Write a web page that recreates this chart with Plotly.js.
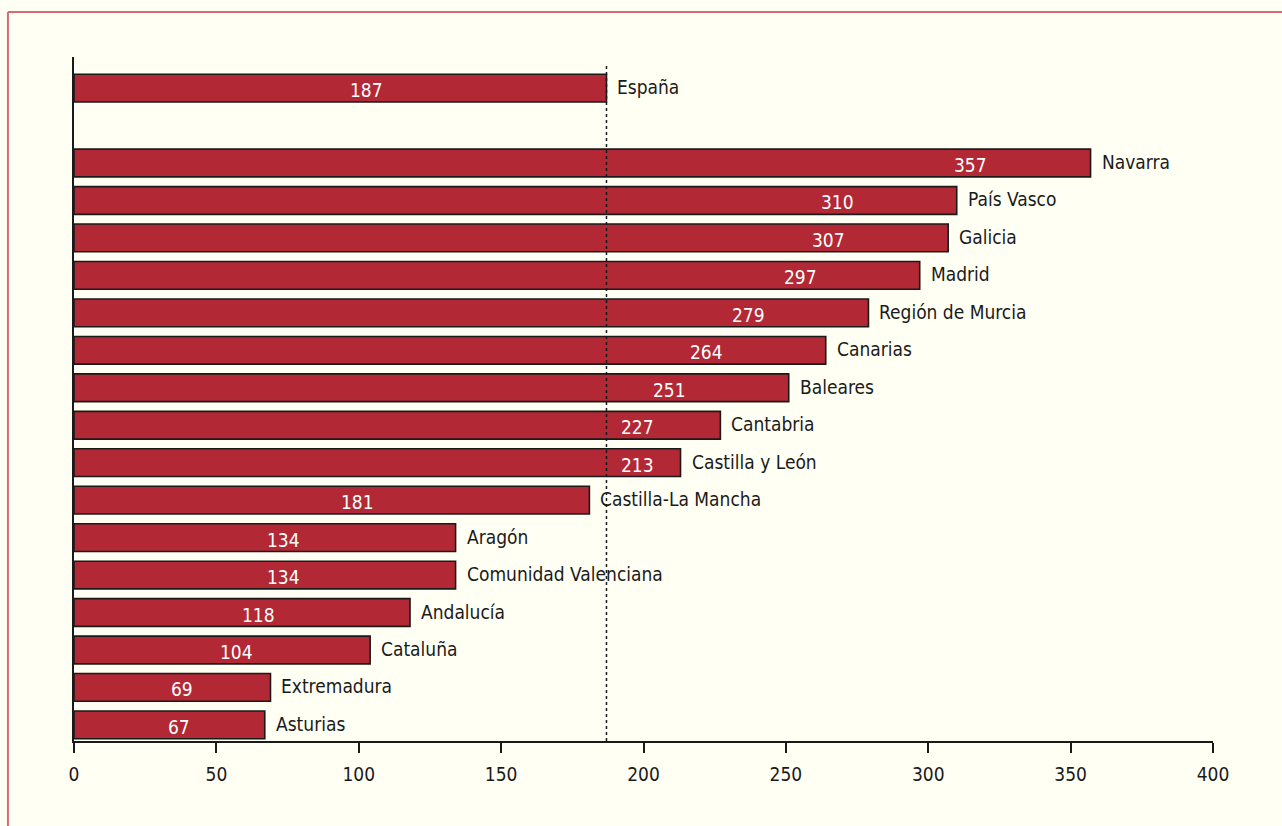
<!DOCTYPE html>
<html>
<head>
<meta charset="utf-8">
<script src="https://cdn.plot.ly/plotly-3.0.1.min.js"></script>
<style>
html,body{margin:0;padding:0;background:#fffff4;}
#chart{width:1282px;height:826px;}
</style>
</head>
<body>
<div id="chart"></div>
<script>
// Data (top to bottom as shown)
const regions = ["España", "Navarra", "País Vasco", "Galicia", "Madrid", "Región de Murcia",
  "Canarias", "Baleares", "Cantabria", "Castilla y León", "Castilla-La Mancha", "Aragón",
  "Comunidad Valenciana", "Andalucía", "Cataluña", "Extremadura", "Asturias"];
const values = [187, 357, 310, 307, 297, 279, 264, 251, 227, 213, 181, 134, 134, 118, 104, 69, 67];
const referenceValue = 187;
const xTicks = [0, 50, 100, 150, 200, 250, 300, 350, 400];

const FONT = "'Liberation Sans Narrow', 'Arial Narrow', 'DejaVu Sans Condensed', sans-serif";
const FSIZE = 19;
const GAP = " ";

// category order bottom -> top, with a blank slot between España and the regions
const order = regions.slice(1).reverse().concat([GAP, regions[0]]);

const trace = {
  type: "bar",
  orientation: "h",
  x: values,
  y: regions,
  width: 0.74,
  marker: {color: "#b22834", line: {color: "#1a1a1a", width: 1.6}},
  hoverinfo: "x+y",
  cliponaxis: false
};

const annotations = [];
values.forEach((v, i) => {
  const lx = v > referenceValue ? Math.max(v - 42, referenceValue + 11) : v * 0.55;
  annotations.push({
    x: lx, y: regions[i], xref: "x", yref: "y", text: String(v), showarrow: false,
    xanchor: "center", yanchor: "middle", yshift: -2,
    font: {family: FONT, size: FSIZE, color: "#ffffff"}
  });
  annotations.push({
    x: v, y: regions[i], xref: "x", yref: "y", text: regions[i], showarrow: false,
    xanchor: "left", yanchor: "middle", xshift: 9, yshift: 1,
    font: {family: FONT, size: FSIZE, color: "#1a1a1a"}
  });
});

const layout = {
  width: 1282, height: 826,
  paper_bgcolor: "#fffff4", plot_bgcolor: "#fffff4",
  margin: {l: 74, r: 69, t: 57, b: 85, pad: 0},
  showlegend: false,
  font: {family: FONT, size: FSIZE, color: "#1a1a1a"},
  xaxis: {
    range: [0, 400], tickvals: xTicks, ticktext: xTicks.map(String),
    showgrid: false, zeroline: false, showline: true, linecolor: "#1a1a1a", linewidth: 1.5,
    ticks: "outside", ticklen: 10, tickwidth: 1.5, tickcolor: "#1a1a1a",
    ticklabelstandoff: 5,
    tickfont: {family: FONT, size: FSIZE, color: "#1a1a1a"}, fixedrange: true
  },
  yaxis: {
    type: "category", categoryorder: "array", categoryarray: order,
    range: [-0.43, 17.83],
    showgrid: false, zeroline: false, showline: true, linecolor: "#1a1a1a", linewidth: 1.5,
    ticks: "", showticklabels: false, fixedrange: true
  },
  shapes: [
    {type: "line", xref: "x", yref: "y", x0: referenceValue, x1: referenceValue, y0: -0.43, y1: 17.62,
     line: {color: "#1a1a1a", width: 1.5, dash: "dot"}, layer: "above"},
    {type: "line", xref: "paper", yref: "paper", x0: -0.058, x1: 1.07, y0: 1.0658, y1: 1.0658,
     line: {color: "#d86a74", width: 2}},
    {type: "line", xref: "paper", yref: "paper", x0: -0.058, x1: -0.058, y0: 1.0658, y1: -0.14,
     line: {color: "#d86a74", width: 2}}
  ],
  annotations: annotations
};

Plotly.newPlot("chart", [trace], layout, {displayModeBar: false, responsive: false});
</script>
</body>
</html>
